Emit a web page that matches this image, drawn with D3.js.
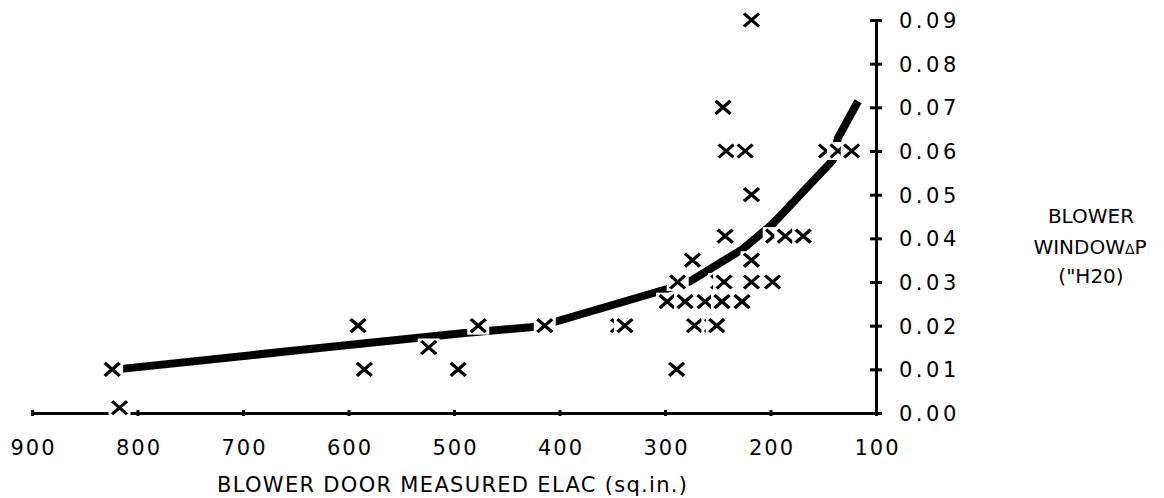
<!DOCTYPE html>
<html>
<head>
<meta charset="utf-8">
<script src="https://cdn.jsdelivr.net/npm/d3@7"></script>
<style>
    body { margin: 0; background: #fff; }
    text { font-family: "DejaVu Sans"; fill: #000; }
</style>
</head>
<body>
<div id="wrapper"></div>
<script>
// tick labels
const xTicks = [900, 800, 700, 600, 500, 400, 300, 200, 100];
const yTicks = [0, 0.01, 0.02, 0.03, 0.04, 0.05, 0.06, 0.07, 0.08, 0.09];

// measured points: blower door ELAC (sq.in.) vs blower window dP ("H2O)
const pointElac = [824, 817, 591, 585, 524, 496, 477, 414, 344, 338,
    298, 281, 262, 246, 227, 288, 249, 244, 218, 198,
    274, 218, 272, 255, 251, 289, 218, 245, 242, 224,
    218, 147, 136, 123, 243, 197, 186, 169];
const pointDp = [0.010, 0.0012, 0.020, 0.010, 0.015, 0.010, 0.020, 0.020, 0.020, 0.020,
    0.0255, 0.0255, 0.0255, 0.0255, 0.0255, 0.030, 0.030, 0.030, 0.030, 0.030,
    0.035, 0.035, 0.020, 0.020, 0.020, 0.010, 0.090, 0.070, 0.060, 0.060,
    0.050, 0.060, 0.060, 0.060, 0.0405, 0.0405, 0.0405, 0.0405];

// hand drawn fit curve
const fitElac = [815, 655, 490, 425, 404, 298, 276, 226, 198, 141, 136, 117];
const fitDp = [0.0101, 0.0142, 0.0183, 0.0197, 0.0209, 0.0284, 0.0302, 0.0376, 0.0433, 0.0579, 0.0630, 0.0714];

const xTitle = "BLOWER DOOR MEASURED ELAC (sq.in.)";

const dimension = { width: 1164, height: 498 };

const svg = d3.select("#wrapper").append("svg")
    .attr("width", dimension.width)
    .attr("height", dimension.height);
const bounded = svg.append("g");

const xScaler = d3.scaleLinear().domain([900, 100]).range([32, 876]);
const yScaler = d3.scaleLinear().domain([0, 0.09]).range([413, 20]);

// x axis
const xAxisG = bounded.append("g")
    .attr("transform", "translate(0, 413)")
    .call(d3.axisBottom(xScaler).tickValues(xTicks).tickSizeOuter(0).tickFormat(d3.format("d")));
xAxisG.select(".domain").attr("stroke", "#000").attr("stroke-width", 3);
xAxisG.selectAll(".tick line").attr("y1", -3).attr("y2", 3).attr("stroke", "#000").attr("stroke-width", 3);
xAxisG.selectAll(".tick text")
    .attr("y", 42).attr("dy", 0).attr("dx", 1)
    .style("font-size", "21px").style("letter-spacing", "2px")
    .attr("fill", "#000");

// y axis on the right
const yAxisG = bounded.append("g")
    .attr("transform", "translate(876, 0)")
    .call(d3.axisRight(yScaler).tickValues(yTicks).tickSizeOuter(0).tickFormat(d3.format(".2f")));
yAxisG.select(".domain").attr("stroke", "#000").attr("stroke-width", 3);
yAxisG.selectAll(".tick line").attr("x1", -6).attr("x2", 6).attr("stroke", "#000").attr("stroke-width", 3);
yAxisG.selectAll(".tick text")
    .attr("x", 23).attr("dy", "0.36em")
    .style("font-size", "21px").style("letter-spacing", "3.5px")
    .attr("fill", "#000");
bounded.selectAll(".domain").attr("fill", "none");

// fit line
const fitData = fitElac.map((e, i) => [e, fitDp[i]]);
const lineGenerator = d3.line()
    .x(d => xScaler(d[0]))
    .y(d => yScaler(d[1]));
bounded.append("path")
    .attr("d", lineGenerator(fitData))
    .attr("fill", "none")
    .attr("stroke", "#000")
    .attr("stroke-width", 8)
    .attr("stroke-linejoin", "round");

// X marks with a white box behind each one (left to right)
const points = pointElac.map((e, i) => ({ e: e, dp: pointDp[i] }))
    .sort((a, b) => b.e - a.e);
const marks = bounded.selectAll("g.mark")
    .data(points)
    .join("g")
    .attr("class", "mark")
    .attr("transform", d => `translate(${xScaler(d.e)}, ${yScaler(d.dp)})`);
marks.append("rect")
    .attr("x", -11).attr("y", -9)
    .attr("width", 22).attr("height", 18)
    .attr("fill", "#fff");
marks.append("path")
    .attr("d", d3.symbol(d3.symbolX, 112)())
    .attr("transform", "scale(1.15, 1)")
    .attr("fill", "none")
    .attr("stroke", "#000")
    .attr("stroke-width", 3);

// axis titles
bounded.append("text")
    .attr("x", 452)
    .attr("y", 492)
    .attr("text-anchor", "middle")
    .attr("textLength", 470)
    .attr("lengthAdjust", "spacing")
    .style("font-size", "21px")
    .text(xTitle);

const rightTitle = bounded.append("text")
    .attr("text-anchor", "middle")
    .style("font-size", "20px");
rightTitle.append("tspan").attr("x", 1091).attr("y", 223).text("BLOWER");
const line2 = rightTitle.append("tspan").attr("x", 1090).attr("y", 254);
line2.append("tspan").text("WINDOW");
line2.append("tspan").style("font-size", "14px").text("\u0394");
line2.append("tspan").text("P");
rightTitle.append("tspan").attr("x", 1091).attr("y", 283).text("(\"H20)");
</script>
</body>
</html>
